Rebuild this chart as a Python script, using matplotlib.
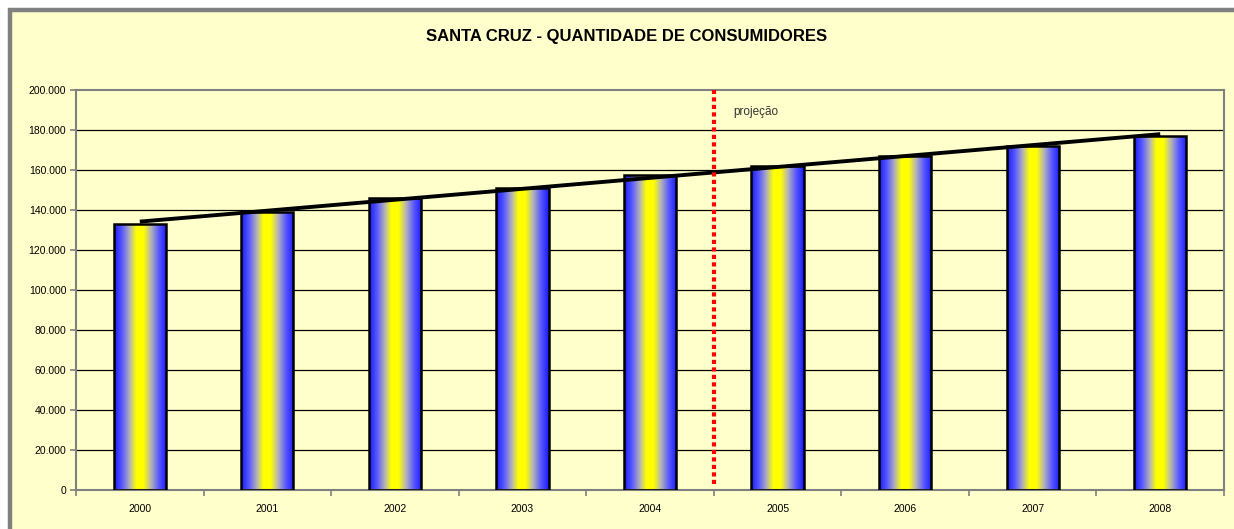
import matplotlib

matplotlib.use('Agg')
import matplotlib.pyplot as plt
import numpy as np
from matplotlib.colors import LinearSegmentedColormap
from matplotlib.patches import Rectangle
from matplotlib.ticker import FuncFormatter

plt.rcParams['font.family'] = ['Liberation Sans', 'DejaVu Sans']

anos = ['2000', '2001', '2002', '2003', '2004', '2005', '2006', '2007', '2008']
consumidores = [133000, 139000, 146000, 151000, 157500, 162000, 167000, 172000, 177000]
titulo = 'SANTA CRUZ - QUANTIDADE DE CONSUMIDORES'
rotulo_proj = 'projeção'
pos_proj = 4.5

fundo = '#FFFFCC'
fig = plt.figure(figsize=(12.34, 5.29), dpi=100)
fig.patch.set_facecolor('white')
# moldura cinza do gráfico (cortada à direita e embaixo)
fig.patches.append(Rectangle((10 / 1234, -0.05), 1.1, 1 - 10 / 529 + 0.05,
                             transform=fig.transFigure, facecolor=fundo,
                             edgecolor='#808080', linewidth=3.2, zorder=-10))

ax = fig.add_axes([76 / 1234, 1 - 490 / 529, (1224 - 76) / 1234, 400 / 529])
ax.set_zorder(1)
ax.set_facecolor(fundo)

x = np.arange(len(anos))
largura = 0.41
cmap = LinearSegmentedColormap.from_list('grad', [
    (0.0, '#1a1aff'), (0.15, '#5858ff'), (0.3, '#b4b4b8'), (0.42, '#ffff00'),
    (0.56, '#ffff00'), (0.7, '#b4b4b8'), (0.85, '#5858ff'), (1.0, '#1a1aff')])
grad = np.linspace(0, 1, 256).reshape(1, -1)
for xi, v in zip(x, consumidores):
    ax.imshow(grad, cmap=cmap, extent=(xi - largura / 2, xi + largura / 2, 0, v),
              aspect='auto', zorder=2, interpolation='bilinear')
ax.bar(x, consumidores, width=largura, facecolor='none', edgecolor='black',
       linewidth=1.8, zorder=3)

# linha de tendência linear
coef = np.polyfit(x, consumidores, 1)
ax.plot([x[0], x[-1]], np.polyval(coef, [x[0], x[-1]]), color='black',
        linewidth=2.8, zorder=4, solid_capstyle='butt')

ax.vlines(pos_proj, 3000, 200000, colors='#FF0000', linewidth=3,
          linestyles=(0, (1, 0.8)), zorder=5)
ax.text(pos_proj + 0.15, 189000, rotulo_proj, fontsize=8.5, color='#333333',
        va='center', ha='left')

ax.set_xlim(-0.5, len(anos) - 0.5)
ax.set_ylim(0, 200000)
ax.set_yticks(np.arange(0, 200001, 20000))
ax.yaxis.set_major_formatter(FuncFormatter(lambda v, p: f'{int(v):,}'.replace(',', '.')))
ax.set_xticks(x)
ax.set_xticklabels(anos)
ax.set_xticks(np.arange(-0.5, len(anos), 1), minor=True)
ax.tick_params(axis='x', which='major', length=0, labelsize=7.5, pad=10)
ax.tick_params(axis='x', which='minor', length=4, color='#808080', width=1.2)
ax.tick_params(axis='y', length=4, color='#808080', width=1.2, labelsize=7.5, pad=3)
for g in np.arange(20000, 200000, 20000):
    ax.axhline(g, color='black', linewidth=0.9, zorder=1)
for s in ax.spines.values():
    s.set_color('#808080')
    s.set_linewidth(1.5)

fig.text(0.508, 1 - 37 / 529, titulo, fontsize=12, fontweight='bold', ha='center', va='center')

plt.savefig('out.png', dpi=100, facecolor=fig.get_facecolor())
plt.close()
